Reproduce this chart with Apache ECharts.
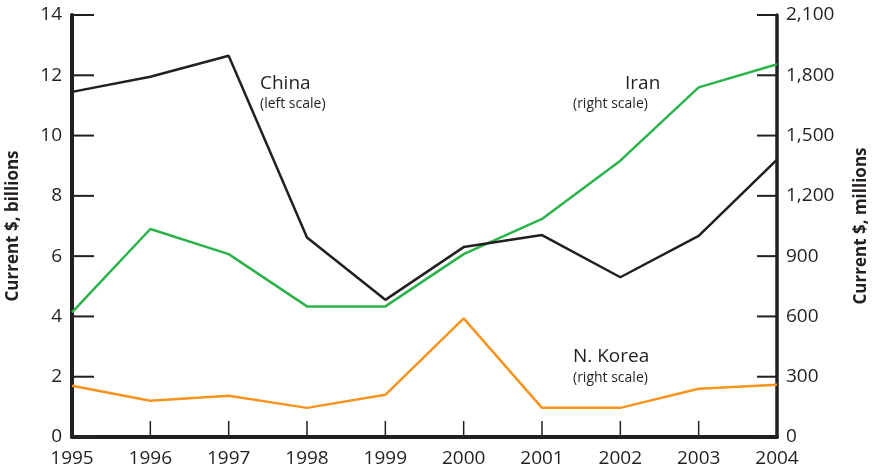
<!DOCTYPE html>
<html>
<head>
<meta charset="utf-8">
<script src="https://cdn.jsdelivr.net/npm/echarts@6/dist/echarts.min.js"></script>
<style>html,body{margin:0;padding:0;background:#fff}#c{width:873px;height:474px}</style>
</head>
<body>
<div id="c"></div>
<script>
const years = ['1995','1996','1997','1998','1999','2000','2001','2002','2003','2004'];
const china = [11.45, 11.95, 12.65, 6.62, 4.55, 6.3, 6.7, 5.3, 6.67, 9.2];      // $ billions, left
const iran = [620, 1035, 910, 650, 650, 910, 1085, 1375, 1740, 1855];         // $ millions, right
const nkorea = [255, 180, 205, 145, 210, 590, 145, 145, 240, 260];            // $ millions, right
const leftTicks = [0, 2, 4, 6, 8, 10, 12, 14];
const rightTicks = [0, 300, 600, 900, 1200, 1500, 1800, 2100];
const leftName = 'Current $, billions';
const rightName = 'Current $, millions';

const ink = '#231f20';
const font = '"Open Sans", "Noto Sans", sans-serif';

function tickSeries(data, yAxisIndex, dx, dy, w) {
  return {
    type: 'custom', yAxisIndex: yAxisIndex, data: data, clip: false, z: 6, silent: true,
    renderItem: function (params, api) {
      const p = api.coord([api.value(0), api.value(1)]);
      return { type: 'line', shape: { x1: p[0], y1: p[1], x2: p[0] + dx, y2: p[1] + dy },
               style: { stroke: ink, lineWidth: w } };
    }
  };
}

const chart = echarts.init(document.getElementById('c'));
chart.setOption({
  animation: false,
  grid: { left: 72, right: 96, top: 15, bottom: 37, show: false, outerBoundsMode: 'none', containLabel: false },
  xAxis: [{
    type: 'category', data: years, boundaryGap: false, position: 'bottom',
    axisLine: { show: true, lineStyle: { color: ink, width: 4 } },
    axisTick: { show: false },
    axisLabel: { color: ink, fontSize: 19, fontFamily: font, margin: 12, interval: 0 },
    splitLine: { show: false }
  }, {
    type: 'category', data: years, boundaryGap: false, position: 'top',
    axisLine: { show: true, lineStyle: { color: ink, width: 1.5 } },
    axisTick: { show: false }, axisLabel: { show: false }, splitLine: { show: false }
  }],
  yAxis: [{
    type: 'value', min: 0, max: 14, interval: 2, position: 'left',
    name: leftName, nameLocation: 'middle', nameGap: 50, nameRotate: 90,
    nameTextStyle: { color: ink, fontSize: 17, fontWeight: 'bold', fontFamily: font },
    axisLine: { show: true, lineStyle: { color: ink, width: 4 } },
    axisTick: { show: false },
    axisLabel: { color: ink, fontSize: 19, fontFamily: font, margin: 10 },
    splitLine: { show: false }
  }, {
    type: 'value', min: 0, max: 2100, interval: 300, position: 'right',
    name: rightName, nameLocation: 'middle', nameGap: 76, nameRotate: 90,
    nameTextStyle: { color: ink, fontSize: 17, fontWeight: 'bold', fontFamily: font },
    axisLine: { show: true, lineStyle: { color: ink, width: 3.5 } },
    axisTick: { show: false },
    axisLabel: { color: ink, fontSize: 19, fontFamily: font, margin: 9,
      formatter: v => v.toLocaleString('en-US') },
    splitLine: { show: false }
  }],
  backgroundColor: '#fff',
  series: [
    { name: 'China', type: 'line', yAxisIndex: 0, data: china, symbol: 'none',
      lineStyle: { color: ink, width: 2.5 }, z: 4 },
    { name: 'Iran', type: 'line', yAxisIndex: 1, data: iran, symbol: 'none',
      lineStyle: { color: '#2bb34b', width: 2.5 }, z: 3 },
    { name: 'N. Korea', type: 'line', yAxisIndex: 1, data: nkorea, symbol: 'none',
      lineStyle: { color: '#f7941d', width: 2.5 }, z: 3 },
    tickSeries(leftTicks.map(v => [0, v]), 0, 22, 0, 2),
    tickSeries(rightTicks.map(v => [years.length - 1, v]), 1, -20, 0, 2),
    tickSeries(years.map((y, i) => [i, 0]), 0, 0, -16, 1.5)
  ],
  graphic: [
    { type: 'text', left: 260, top: 74, style: { text: 'China', fill: ink, font: '19px ' + font } },
    { type: 'text', left: 260, top: 97, style: { text: '(left scale)', fill: ink, font: '14px ' + font } },
    { type: 'text', left: 625, top: 74, style: { text: 'Iran', fill: ink, font: '19px ' + font } },
    { type: 'text', left: 573, top: 97, style: { text: '(right scale)', fill: ink, font: '14px ' + font } },
    { type: 'text', left: 573, top: 347, style: { text: 'N. Korea', fill: ink, font: '19px ' + font } },
    { type: 'text', left: 573, top: 371, style: { text: '(right scale)', fill: ink, font: '14px ' + font } }
  ]
});
</script>
</body>
</html>
